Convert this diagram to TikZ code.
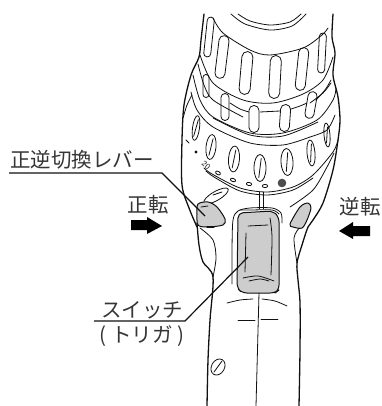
\documentclass[tikz,border=0pt]{standalone}
\usepackage{fontspec}
\newfontfamily\jpfont{Noto Sans CJK JP}
\definecolor{inkc}{HTML}{111111}
\definecolor{partc}{HTML}{CDCDCD}
\tikzset{
  thin line/.style={line width=0.8pt,color=inkc,line cap=round,line join=round},
  body line/.style={line width=1.3pt,color=inkc,line cap=round,line join=round},
  leader/.style={line width=1.2pt,color=inkc},
  label text/.style={font=\jpfont\fontsize{20.5}{24}\selectfont,color=inkc!85!white,inner sep=0pt},
  part/.style={fill=partc,draw=inkc,line width=1pt,line join=round}
}
\newcommand\drillslot[5]{\draw[thin line,shift={(#1,#2)},rotate=#5,rounded corners=#3*0.49pt] (-#3/2,-#4/2) rectangle (#3/2,#4/2);}
\newcommand\drilloval[5]{\begin{scope}[shift={(#1,#2)},rotate=#5]
  \draw[thin line] (0,0) ellipse [x radius=#3/2,y radius=#4/2];
  \draw[thin line] (1.2,-#4/2+4) -- (-1.2,#4/2-4);
\end{scope}}
\begin{document}
\begin{tikzpicture}[x=1pt,y=-1pt]
\useasboundingbox (0,0) rectangle (381,406);
% left and right outer contour
\draw[body line] plot[smooth] coordinates {(204,14) (201,40) (199,57) (191,75) (184,105) (182,140) (182,185) (189,208) (197,227)};
\draw[body line] plot[smooth] coordinates {(333,14) (332,37) (335,53) (333,75) (338,97) (340,120) (338,140) (333,170) (323,203) (313,220) (308,227) (302,245) (297,263) (298,280) (300,303) (300,350) (299,406)};
\draw[body line] plot[smooth] coordinates {(197,223) (199,245) (203,262) (213,277) (210,320) (208,360) (207,406)};
\draw[thin line] plot[smooth] coordinates {(200,228) (213,240) (216,258) (213,277)};
\draw[thin line] plot[smooth] coordinates {(300,227) (294,238) (297,263)};
\draw[thin line] plot[smooth] coordinates {(183,118) (187,105) (192,95)};
% first ring
\draw[thin line] plot[smooth] coordinates {(213,18) (223,33) (250,50) (270,55) (303,48) (322,35) (328,28)};
\draw[thin line] plot[smooth] coordinates {(200,55) (213,83) (243,100) (273,103) (303,94) (323,80) (333,57)};
\draw[thin line] plot[smooth] coordinates {(198,64) (204,85) (213,100) (243,117)};
\draw[thin line] plot[smooth] coordinates {(310,103) (323,93) (331,83)};
% top arcs
\draw[thin line] plot[smooth] coordinates {(231,14) (245,24) (270,30) (292,26) (306,14)};
\draw[thin line] plot[smooth] coordinates {(238,14) (250,21) (270,25) (290,22) (301,14)};
\foreach \a/\b/\c/\d/\e in {209/37/7/40/-6,222/57/10/43/-7,246/73/11/43/-5,275/77/11/43/-3,302/69/10/43/-6,322/53/7/40/-3}{\drillslot{\a}{\b}{\c}{\d}{\e}}
% second ring
\foreach \a/\b/\c/\d/\e in {206/86/6/23/0,225/107/8/27/0,254/119/10/27/0,285/118/10/27/-4,311/105/9/27/-10}{\drillslot{\a}{\b}{\c}{\d}{\e}}
\draw[thin line] plot[smooth] coordinates {(230,103) (240,109) (249,112)};
\draw[thin line] (260,112) -- (280,111);
\draw[thin line] plot[smooth] coordinates {(291,109) (300,106) (307,103)};
\draw[thin line] plot[smooth] coordinates {(316,100) (325,90) (331,80)};
\draw[thin line] plot[smooth] coordinates {(193,75) (200,100) (213,117) (250,133) (283,133) (317,120) (333,100) (336,88)};
\draw[thin line] plot[smooth] coordinates {(191,92) (197,110) (213,127) (250,143) (283,145) (310,137)};
\draw[thin line] plot[smooth] coordinates {(213,118) (250,135) (283,136) (318,122)};
\draw[thin line] plot[smooth] coordinates {(310,137) (327,130) (335,115)};
% oval row
\foreach \a/\b/\c/\d/\e in {196/128/7/25/-8,211/147/10/25/-6,234/159/11/26/-4,260/168/12/27/0,287/162/12/27/3,311/153/8/26/5,327/135/6/24/5}{\drilloval{\a}{\b}{\c}{\d}{\e}}
% scale arcs
\draw[thin line] plot[smooth] coordinates {(204,168) (212,174) (240,188) (267,192) (293,187) (313,175) (333,152) (338,140)};
\draw[thin line] plot[smooth] coordinates {(206,171) (214,177) (240,191) (267,195) (293,190) (313,178)};
\draw[body line,line width=1pt] (186,140) -- (189,143);
\fill[inkc] (196,152) circle (1.6);
\node[font=\fontsize{8}{9}\selectfont\sffamily,rotate=-40,inner sep=0pt,color=inkc] (scale) at (206,165) {20};
\foreach \a/\b/\r in {218/173/-30,233/180/-20,249/184/-10,265/186/0}{\draw[thin line,shift={(\a,\b)},rotate=\r] (0,0) ellipse [x radius=2.7,y radius=1.6];}
\fill[inkc!75!white] (282,183) circle (4.3);
% lever, left
\draw[thin line,rotate around={30:(216,196)}] (216,196) ellipse [x radius=14,y radius=4.5];
\draw[thin line] (213,195) -- (222,192);
\draw[part] plot[smooth cycle] coordinates {(198,204) (208,202) (217,207) (225,219) (223,225) (207,227) (198,225) (197,214)};
\draw[thin line] (201,207) -- (208,206);
\draw[body line] (207,227) -- (214,227);
% lever, right
\draw[part] plot[smooth cycle] coordinates {(290,224) (300,207) (308,203) (311,208) (307,220) (302,228) (293,227)};
\draw[thin line] plot[smooth] coordinates {(290,207) (313,190) (327,167) (334,153)};
% trigger
\draw[part,rounded corners=5pt] (238,213) -- (273,211) -- (279,217) -- (279,290) -- (275,293) -- (242,293) -- (237,288) -- cycle;
\draw[thin line] plot[smooth] coordinates {(232,284) (232,250) (233,220) (238,211) (250,208) (272,208) (281,213) (282,223)};
\draw[thin line] plot[smooth] coordinates {(240,210) (250,210) (272,210) (279,214)};
\draw[thin line] (259,192) -- (259,209);
\draw[thin line] (263,192) -- (263,209);
\draw[thin line] (248,226) -- (268,225);
\draw[thin line] plot[smooth] coordinates {(270,218) (272,237) (271,275)};
\draw[thin line] (246,233) -- (245,272);
\draw[thin line] plot[smooth] coordinates {(243,278) (258,276) (274,281)};
\draw[thin line] plot[smooth] coordinates {(249,281) (260,279) (269,281)};
% handle details
\draw[thin line] (259,293) -- (256,406);
\draw[thin line] plot[smooth] coordinates {(227,303) (240,300) (253,299)};
\draw[thin line] plot[smooth] coordinates {(262,299) (275,301) (287,306)};
\draw[thin line] (238,320) -- (255,320);
\draw[thin line] (261,319) -- (278,319);
\draw[thin line,rotate around={-30:(218,367)}] (218,367) ellipse [x radius=6.5,y radius=8.5];
\draw[thin line] (214,372) -- (222,361);
% labels
\node[label text] (levername) at (82,160) {正逆切換レバー};
\node[label text] (fwd) at (148,205) {正転};
\node[label text] (rev) at (360,207) {逆転};
\node[label text] (switchname) at (142,310) {スイッチ};
\node[label text] (triggername) at (142,336) {(\hspace{5pt}トリガ\hspace{5pt})};
% leaders
\coordinate (leverA) at (9,173);
\coordinate (leverB) at (162,173);
\coordinate (leverT) at (205,216);
\coordinate (switchA) at (94,321);
\coordinate (switchB) at (185,321);
\coordinate (switchT) at (248,257);
\draw[leader] (leverA) -- (leverB) -- (leverT);
\draw[leader] (switchA) -- (switchB) -- (switchT);
% arrows
\fill[black] (131,220) -- (147,220) -- (147,217) -- (162,226) -- (147,234) -- (147,230) -- (131,230) -- cycle;
\fill[black] (370,226) -- (353,226) -- (353,222) -- (339,231) -- (353,239) -- (353,236) -- (370,236) -- cycle;
\end{tikzpicture}
\end{document}
